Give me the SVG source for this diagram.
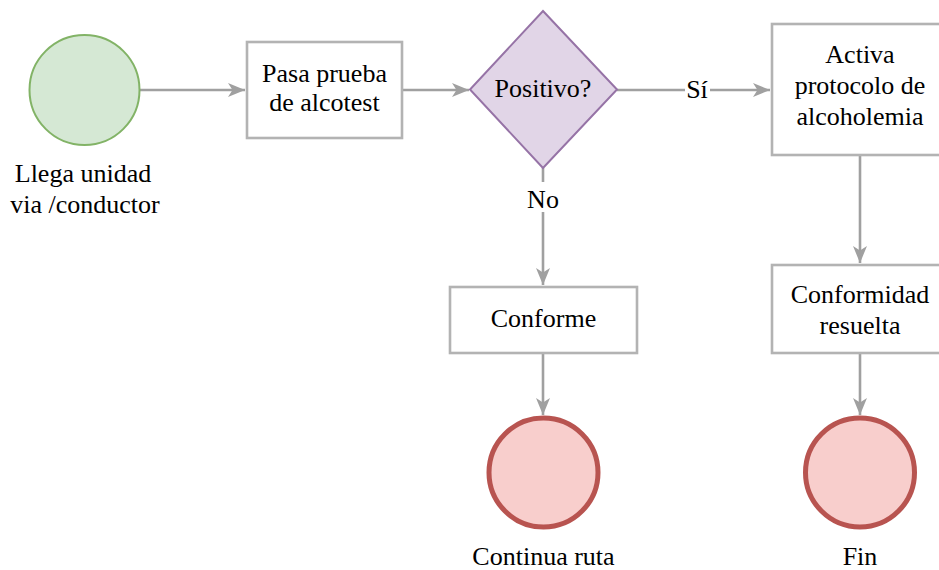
<svg xmlns="http://www.w3.org/2000/svg" width="939" height="570" viewBox="0 0 939 570">
<defs>
<style>
.t{font-family:'Liberation Serif','DejaVu Serif',serif;font-size:26px;fill:#000;text-anchor:middle}
.box{fill:#fff;stroke:#b3b3b3;stroke-width:2.6}
.edge{fill:none;stroke:#a0a0a0;stroke-width:2.6}
.end{fill:#f8cecc;stroke:#b85450;stroke-width:5}
</style>
<marker id="arr" markerUnits="userSpaceOnUse" markerWidth="18" markerHeight="16" refX="17" refY="7" orient="auto" viewBox="0 0 18 14">
<path d="M0,0 L17,7 L0,14 L4.5,7 Z" fill="#a0a0a0"/>
</marker>
</defs>
<rect width="939" height="570" fill="#fff"/>
<g id="connectors">
<path class="edge" d="M140,90 H245" marker-end="url(#arr)"/>
<path class="edge" d="M402,90 H469" marker-end="url(#arr)"/>
<path class="edge" d="M617,90 H770" marker-end="url(#arr)"/>
<path class="edge" d="M543,168 V285" marker-end="url(#arr)"/>
<path class="edge" d="M860,155 V263" marker-end="url(#arr)"/>
<path class="edge" d="M543,353 V415" marker-end="url(#arr)"/>
<path class="edge" d="M860,353 V415" marker-end="url(#arr)"/>
<rect x="685" y="76" width="25" height="26" fill="#fff"/>
<text class="t" x="697" y="98">Sí</text>
<rect x="526" y="182" width="34" height="30" fill="#fff"/>
<text class="t" x="543" y="208">No</text>
</g>
<g id="start">
<circle cx="84.5" cy="90" r="55" fill="#d5e8d4" stroke="#82b366" stroke-width="2"/>
<text class="t" x="83" y="182">Llega unidad</text>
<text class="t" x="85" y="213">via /conductor</text>
</g>
<g id="prueba">
<rect class="box" x="247" y="42" width="155" height="96"/>
<text class="t" x="324.5" y="82">Pasa prueba</text>
<text class="t" x="324.5" y="111">de alcotest</text>
</g>
<g id="positivo">
<path d="M543,11 L617,89.5 L543,168 L470,89.5 Z" fill="#e1d5e7" stroke="#9673a6" stroke-width="2"/>
<text class="t" x="543" y="97">Positivo?</text>
</g>
<g id="activa">
<rect class="box" x="772" y="24" width="176" height="131"/>
<text class="t" x="860" y="63">Activa</text>
<text class="t" x="860" y="94">protocolo de</text>
<text class="t" x="860" y="125">alcoholemia</text>
</g>
<g id="conforme">
<rect class="box" x="450" y="287" width="187" height="66"/>
<text class="t" x="543.5" y="327">Conforme</text>
</g>
<g id="conformidad">
<rect class="box" x="772" y="265" width="176" height="88"/>
<text class="t" x="860" y="303">Conformidad</text>
<text class="t" x="860" y="334">resuelta</text>
</g>
<g id="continua">
<circle class="end" cx="543.5" cy="472.5" r="54.5"/>
<text class="t" x="543.5" y="565">Continua ruta</text>
</g>
<g id="fin">
<circle class="end" cx="860" cy="472.5" r="54.5"/>
<text class="t" x="860" y="565">Fin</text>
</g>
</svg>
